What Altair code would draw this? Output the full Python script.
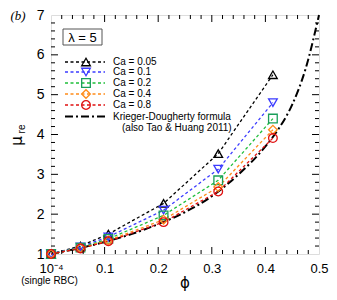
import altair as alt
import pandas as pd

# ---- data ----
phi = [0.0001, 0.055, 0.107, 0.21, 0.312, 0.414]
ca_labels = ["Ca = 0.05", "Ca = 0.1", "Ca = 0.2", "Ca = 0.4", "Ca = 0.8"]
mu_005 = [1.0, 1.2, 1.5, 2.27, 3.52, 5.5]
mu_01 = [1.0, 1.18, 1.43, 2.1, 3.13, 4.8]
mu_02 = [1.0, 1.16, 1.38, 1.97, 2.85, 4.4]
mu_04 = [1.0, 1.15, 1.34, 1.86, 2.68, 4.12]
mu_08 = [1.0, 1.14, 1.32, 1.8, 2.57, 3.91]
series = [mu_005, mu_01, mu_02, mu_04, mu_08]
colors = ["#000000", "#3b3bff", "#1fbf3a", "#ff8c1a", "#e01010"]
marker_colors = ["#000000", "#3b3bff", "#1a9e5a", "#ff8c1a", "#e01010"]
shapes = ["triangle-up", "triangle-down", "square", "diamond", "circle"]

kd_phi = [0.0, 0.05, 0.1, 0.15, 0.2, 0.25, 0.3, 0.35, 0.4, 0.425, 0.45, 0.475, 0.5]
kd_mu = [1.0, 1.14, 1.3, 1.5, 1.75, 2.05, 2.45, 3.0, 3.7, 4.15, 4.75, 5.65, 7.0]

x_ticks = [0.0, 0.1, 0.2, 0.3, 0.4, 0.5]
x_minor = [0.02, 0.04, 0.06, 0.08, 0.12, 0.14, 0.16, 0.18, 0.22, 0.24, 0.26, 0.28,
           0.32, 0.34, 0.36, 0.38, 0.42, 0.44, 0.46, 0.48]
y_ticks = [1, 2, 3, 4, 5, 6, 7]
y_minor = [1.2, 1.4, 1.6, 1.8, 2.2, 2.4, 2.6, 2.8, 3.2, 3.4, 3.6, 3.8, 4.2, 4.4, 4.6, 4.8,
           5.2, 5.4, 5.6, 5.8, 6.2, 6.4, 6.6, 6.8]

W, H = 268, 239
FONT = "Liberation Sans"

xs = alt.Scale(domain=[0, 0.5], nice=False, zero=False)
ys = alt.Scale(domain=[1, 7], nice=False, zero=False)

x_axis = alt.Axis(
    values=x_ticks, tickSize=0, domain=False, grid=False, labelPadding=8,
    labelFlush=False, labelOverlap=False,
    labelFont=FONT, labelFontSize=13, labelColor="black", title=None,
    labelExpr="datum.value == 0 ? '10⁻⁴' : format(datum.value, '.1f')")
y_axis = alt.Axis(
    values=y_ticks, tickSize=0, domain=False, grid=False, labelPadding=7,
    labelFlush=False, labelOverlap=False,
    labelFont=FONT, labelFontSize=14, labelColor="black", title=None)


def X(f):
    return alt.X(f, scale=xs, axis=x_axis)


def Y(f):
    return alt.Y(f, scale=ys, axis=y_axis)


rows = []
for lab, vals in zip(ca_labels, series):
    for p, v in zip(phi, vals):
        rows.append({"ca": lab, "phi": p, "mu": v})
df = pd.DataFrame(rows)
kd = pd.DataFrame({"phi": kd_phi, "mu": kd_mu})

layers = []

# Krieger-Dougherty curve
layers.append(alt.Chart(kd).mark_line(
    color="black", strokeWidth=2, strokeDash=[8, 3, 2, 3], interpolate="monotone"
).encode(x=X("phi:Q"), y=Y("mu:Q")))

# series lines and markers
for lab, col, mcol, shp in zip(ca_labels, colors, marker_colors, shapes):
    sub = df[df["ca"] == lab]
    layers.append(alt.Chart(sub).mark_line(color=col, strokeWidth=1.3, strokeDash=[3, 2.5]).encode(
        x=X("phi:Q"), y=Y("mu:Q")))
for lab, col, mcol, shp in zip(ca_labels, colors, marker_colors, shapes):
    sub = df[df["ca"] == lab]
    layers.append(alt.Chart(sub).mark_point(shape=shp, filled=False, color=mcol, size=75,
                                            strokeWidth=1.3, opacity=1).encode(
        x=X("phi:Q"), y=Y("mu:Q")))

# inward ticks
tx = pd.DataFrame({"v": x_ticks[1:-1]})
txm = pd.DataFrame({"v": x_minor})
ty = pd.DataFrame({"v": y_ticks[1:-1]})
tym = pd.DataFrame({"v": y_minor})
for d, L in ((tx, 7), (txm, 4)):
    layers.append(alt.Chart(d).mark_rule(color="black", strokeWidth=1).encode(
        x=X("v:Q"), y=alt.value(H), y2=alt.value(H - L)))
    layers.append(alt.Chart(d).mark_rule(color="black", strokeWidth=1).encode(
        x=X("v:Q"), y=alt.value(0), y2=alt.value(L)))
for d, L in ((ty, 7), (tym, 4)):
    layers.append(alt.Chart(d).mark_rule(color="black", strokeWidth=1).encode(
        y=Y("v:Q"), x=alt.value(0), x2=alt.value(L)))
    layers.append(alt.Chart(d).mark_rule(color="black", strokeWidth=1).encode(
        y=Y("v:Q"), x=alt.value(W), x2=alt.value(W - L)))

one = pd.DataFrame({"a": [0]})

# lambda box
layers.append(alt.Chart(one).mark_rect(fill="white", stroke="#555555", strokeWidth=1).encode(
    x=alt.value(12), x2=alt.value(51), y=alt.value(14), y2=alt.value(30)))
layers.append(alt.Chart(one).mark_text(text="λ = 5", font=FONT, fontSize=13, color="black",
                                       align="center", baseline="middle").encode(
    x=alt.value(31.5), y=alt.value(22.5)))

# custom legend
row_y = [47, 57, 68, 79, 90]
for lab, col, mcol, shp, yy in zip(ca_labels, colors, marker_colors, shapes, row_y):
    layers.append(alt.Chart(one).mark_rule(color=col, strokeWidth=1.3, strokeDash=[3, 2.5]).encode(
        x=alt.value(14), x2=alt.value(54), y=alt.value(yy)))
    layers.append(alt.Chart(one).mark_point(shape=shp, filled=False, color=mcol, size=75,
                                            strokeWidth=1.3, opacity=1).encode(
        x=alt.value(35), y=alt.value(yy)))
    layers.append(alt.Chart(one).mark_text(text=lab, font=FONT, fontSize=10, color="black",
                                           align="left", baseline="middle").encode(
        x=alt.value(62), y=alt.value(yy)))
layers.append(alt.Chart(one).mark_rule(color="black", strokeWidth=2, strokeDash=[8, 3, 2, 3]).encode(
    x=alt.value(14), x2=alt.value(54), y=alt.value(101.5)))
layers.append(alt.Chart(one).mark_text(text="Krieger-Dougherty formula", font=FONT, fontSize=10,
                                       color="black", align="left", baseline="middle").encode(
    x=alt.value(62), y=alt.value(101.5)))
layers.append(alt.Chart(one).mark_text(text="(also Tao & Huang 2011)", font=FONT, fontSize=10,
                                       color="black", align="left", baseline="middle").encode(
    x=alt.value(71), y=alt.value(113)))

# axis titles and annotations
layers.append(alt.Chart(one).mark_text(text="(single RBC)", font=FONT, fontSize=10, color="black",
                                       align="center", baseline="middle").encode(
    x=alt.value(-1.5), y=alt.value(266)))
layers.append(alt.Chart(one).mark_text(text="ϕ", font="DejaVu Sans", fontSize=15, color="black",
                                       align="center", baseline="middle").encode(
    x=alt.value(134), y=alt.value(268)))
layers.append(alt.Chart(one).mark_text(text="μ", font="DejaVu Sans", fontSize=15, color="black",
                                       align="center", baseline="middle", angle=270).encode(
    x=alt.value(-34), y=alt.value(126)))
layers.append(alt.Chart(one).mark_text(text="re", font=FONT, fontSize=10, color="black",
                                       align="center", baseline="middle", angle=270).encode(
    x=alt.value(-29), y=alt.value(114)))
layers.append(alt.Chart(one).mark_text(text="(b)", font="Liberation Serif", fontSize=13,
                                       fontStyle="italic", color="black",
                                       align="center", baseline="middle").encode(
    x=alt.value(-33), y=alt.value(1)))

chart = alt.layer(*layers).properties(
    width=W, height=H,
    autosize=alt.AutoSizeParams(type="none"),
    padding={"left": 43, "top": 7, "right": 10, "bottom": 38},
).configure_view(stroke="black", strokeWidth=1.6).configure(background="white")

chart.save("out.html", embed_options={"renderer": "svg", "actions": False})
